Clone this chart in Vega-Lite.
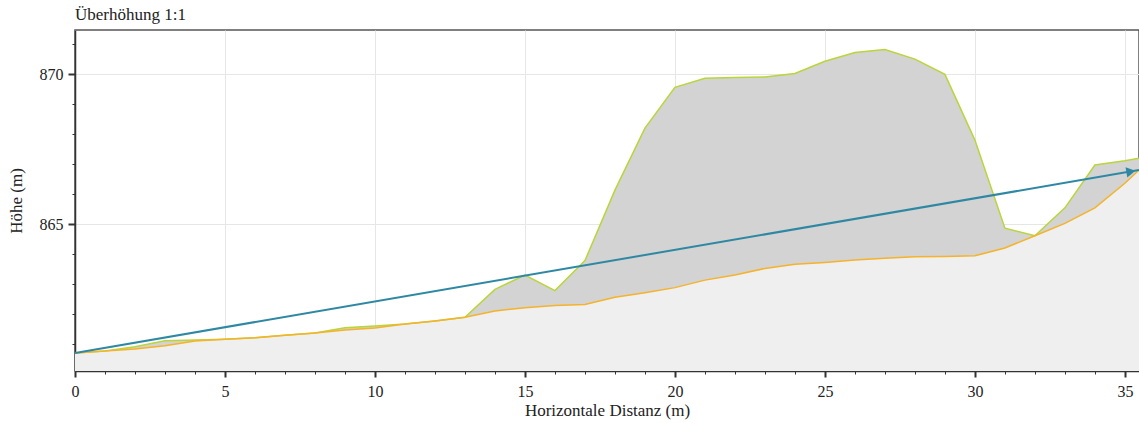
{
  "$schema": "https://vega.github.io/schema/vega-lite/v6.json",
  "width": 1064,
  "height": 341,
  "autosize": {"type": "none"},
  "padding": {"left": 75, "top": 30, "right": 0, "bottom": 52},
  "background": "white",
  "config": {
    "font": "Liberation Serif",
    "view": {"stroke": "#555555", "strokeWidth": 1.5},
    "axis": {
      "labelFont": "Liberation Serif",
      "titleFont": "Liberation Serif",
      "labelFontSize": 16,
      "titleFontSize": 17,
      "titleFontWeight": "normal",
      "labelColor": "#222222",
      "titleColor": "#222222",
      "domainColor": "#333333",
      "domainWidth": 1.5,
      "tickColor": "#333333",
      "gridColor": "#e6e6e6",
      "tickCount": 100
    }
  },
  "title": {
    "text": "Überhöhung 1:1",
    "anchor": "start",
    "frame": "group",
    "font": "Liberation Serif",
    "fontSize": 17,
    "fontWeight": "normal",
    "color": "#222222",
    "offset": 6
  },
  "datasets": {
    "profile": [
      {"d": 0, "g": 860.7, "o": 860.7},
      {"d": 1, "g": 860.77, "o": 860.77},
      {"d": 2, "g": 860.91, "o": 860.83},
      {"d": 3, "g": 861.11, "o": 860.94},
      {"d": 4, "g": 861.13, "o": 861.1},
      {"d": 5, "g": 861.16, "o": 861.16},
      {"d": 6, "g": 861.21, "o": 861.21},
      {"d": 7, "g": 861.29, "o": 861.29},
      {"d": 8, "g": 861.37, "o": 861.37},
      {"d": 9, "g": 861.54, "o": 861.47},
      {"d": 10, "g": 861.6, "o": 861.53},
      {"d": 11, "g": 861.67, "o": 861.67},
      {"d": 12, "g": 861.77, "o": 861.77},
      {"d": 13, "g": 861.89, "o": 861.89},
      {"d": 14, "g": 862.82, "o": 862.1},
      {"d": 15, "g": 863.3, "o": 862.21},
      {"d": 16, "g": 862.78, "o": 862.28},
      {"d": 17, "g": 863.78, "o": 862.32},
      {"d": 18, "g": 866.13, "o": 862.56},
      {"d": 19, "g": 868.2, "o": 862.71},
      {"d": 20, "g": 869.56, "o": 862.88},
      {"d": 21, "g": 869.86, "o": 863.13},
      {"d": 22, "g": 869.89, "o": 863.3},
      {"d": 23, "g": 869.9, "o": 863.52},
      {"d": 24, "g": 870.02, "o": 863.66},
      {"d": 25, "g": 870.43, "o": 863.72},
      {"d": 26, "g": 870.72, "o": 863.8},
      {"d": 27, "g": 870.82, "o": 863.86},
      {"d": 28, "g": 870.5, "o": 863.91},
      {"d": 29, "g": 869.99, "o": 863.92},
      {"d": 30, "g": 867.8, "o": 863.94},
      {"d": 31, "g": 864.86, "o": 864.2},
      {"d": 32, "g": 864.61, "o": 864.61},
      {"d": 33, "g": 865.54, "o": 865.02},
      {"d": 34, "g": 866.97, "o": 865.54},
      {"d": 35, "g": 867.11, "o": 866.36},
      {"d": 35.47, "g": 867.19, "o": 866.8}
    ],
    "arrow": [
      {"d": 0, "h": 860.7},
      {"d": 35.47, "h": 866.8}
    ],
    "head": [
      {"d": 35.2, "h": 866.75}
    ]
  },
  "layer": [
    {
      "data": {"name": "profile"},
      "mark": {"type": "area", "color": "#efefef", "clip": true},
      "encoding": {
        "x": {
          "field": "d", "type": "quantitative",
          "scale": {"domain": [0, 35.47], "nice": false, "zero": false},
          "axis": {
            "title": "Horizontale Distanz (m)",
            "values": [0,1,2,3,4,5,6,7,8,9,10,11,12,13,14,15,16,17,18,19,20,21,22,23,24,25,26,27,28,29,30,31,32,33,34,35],
            "tickCount": 100,
            "format": "d",
            "labelExpr": "datum.value % 5 === 0 ? datum.label : ''",
            "labelFlush": false,
            "labelOverlap": false,
            "tickSize": {"condition": {"test": "datum.value % 5 === 0", "value": 6}, "value": 3},
            "tickWidth": {"condition": {"test": "datum.value % 5 === 0", "value": 2}, "value": 1},
            "gridOpacity": {"condition": {"test": "datum.value % 5 === 0", "value": 1}, "value": 0},
            "labelPadding": 6,
            "titlePadding": 3
          }
        },
        "y": {
          "field": "o", "type": "quantitative",
          "scale": {"domain": [860.1, 871.47], "nice": false, "zero": false},
          "axis": {
            "title": "Höhe (m)",
            "values": [861,862,863,864,865,866,867,868,869,870,871],
            "tickCount": 100,
            "format": "d",
            "labelExpr": "datum.value % 5 === 0 ? datum.label : ''",
            "labelOverlap": false,
            "tickSize": {"condition": {"test": "datum.value % 5 === 0", "value": 7}, "value": 3},
            "tickWidth": {"condition": {"test": "datum.value % 5 === 0", "value": 2}, "value": 1},
            "gridOpacity": {"condition": {"test": "datum.value % 5 === 0", "value": 1}, "value": 0},
            "labelPadding": 5,
            "titlePadding": 14
          }
        },
        "y2": {"datum": 860.1}
      }
    },
    {
      "data": {"name": "profile"},
      "mark": {"type": "area", "color": "#d3d3d3", "clip": true},
      "encoding": {
        "x": {"field": "d", "type": "quantitative"},
        "y": {"field": "g", "type": "quantitative"},
        "y2": {"field": "o"}
      }
    },
    {
      "data": {"name": "profile"},
      "mark": {"type": "line", "color": "#b9d53a", "strokeWidth": 1.5, "clip": true},
      "encoding": {
        "x": {"field": "d", "type": "quantitative"},
        "y": {"field": "g", "type": "quantitative"}
      }
    },
    {
      "data": {"name": "profile"},
      "mark": {"type": "line", "color": "#f4b32a", "strokeWidth": 1.5, "clip": true},
      "encoding": {
        "x": {"field": "d", "type": "quantitative"},
        "y": {"field": "o", "type": "quantitative"}
      }
    },
    {
      "data": {"name": "arrow"},
      "mark": {"type": "line", "color": "#2e88a3", "strokeWidth": 2, "clip": true},
      "encoding": {
        "x": {"field": "d", "type": "quantitative"},
        "y": {"field": "h", "type": "quantitative"}
      }
    },
    {
      "data": {"name": "head"},
      "mark": {"type": "point", "shape": "triangle-right", "filled": true, "color": "#2e88a3", "opacity": 1, "size": 110, "angle": 350.3},
      "encoding": {
        "x": {"field": "d", "type": "quantitative"},
        "y": {"field": "h", "type": "quantitative"}
      }
    }
  ]
}
